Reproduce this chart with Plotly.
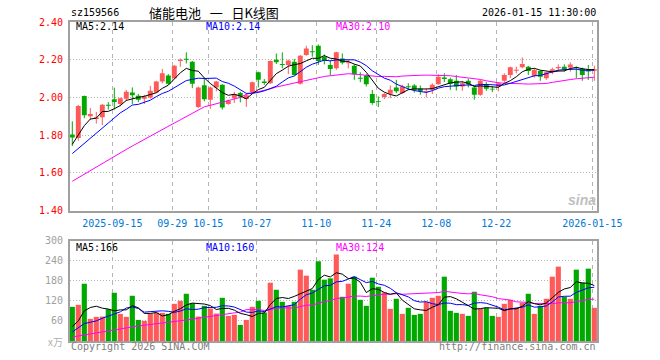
import plotly.graph_objects as go

dates = (
    ["2025-09-%02d" % d for d in [4, 5, 8, 9, 10, 11, 12, 15, 16, 17, 18, 19, 22, 23, 24, 25, 26, 29, 30]]
    + ["2025-10-%02d" % d for d in [9, 10, 13, 14, 15, 16, 17, 20, 21, 22, 23, 24, 27, 28, 29, 30, 31]]
    + ["2025-11-%02d" % d for d in [3, 4, 5, 6, 7, 10, 11, 12, 13, 14, 17, 18, 19, 20, 21, 24, 25, 26, 27, 28]]
    + ["2025-12-%02d" % d for d in [1, 2, 3, 4, 5, 8, 9, 10, 11, 12, 15, 16, 17, 18, 19, 22, 23, 24, 25, 26, 29, 30, 31]]
    + ["2026-01-%02d" % d for d in [5, 6, 7, 8, 9, 12, 13, 14, 15]]
)

opens = [1.803, 1.785, 2.007, 1.900, 1.886, 1.895, 1.962, 1.990, 1.965, 1.993,
         2.026, 2.009, 1.993, 2.000, 2.026, 2.084, 2.116, 2.102, 2.193, 2.207,
         2.189, 1.949, 2.064, 1.988, 2.053, 2.067, 1.965, 1.996, 2.023, 1.991,
         2.028, 2.133, 2.084, 2.075, 2.200, 2.179, 2.172, 2.189, 2.072, 2.225,
         2.247, 2.274, 2.216, 2.172, 2.154, 2.207, 2.184, 2.168, 2.105, 2.116,
         2.018, 1.984, 2.002, 2.019, 2.053, 2.023, 2.061, 2.063, 2.046, 2.032,
         2.040, 2.070, 2.105, 2.096, 2.088, 2.058, 2.088, 2.053, 2.014, 2.067,
         2.049, 2.058, 2.088, 2.119, 2.144, 2.160, 2.163, 2.114, 2.140, 2.102,
         2.133, 2.154, 2.163, 2.158, 2.163, 2.151, 2.144, 2.142]
highs = [1.873, 1.960, 2.010, 1.944, 1.923, 1.965, 1.975, 2.052, 1.999, 2.040,
         2.053, 2.018, 2.014, 2.061, 2.088, 2.151, 2.123, 2.172, 2.207, 2.239,
         2.193, 2.058, 2.100, 2.058, 2.088, 2.070, 1.988, 2.030, 2.030, 2.023,
         2.084, 2.137, 2.098, 2.196, 2.233, 2.239, 2.200, 2.204, 2.225, 2.274,
         2.277, 2.281, 2.228, 2.198, 2.242, 2.233, 2.198, 2.175, 2.133, 2.123,
         2.040, 2.005, 2.023, 2.063, 2.093, 2.067, 2.075, 2.070, 2.063, 2.049,
         2.075, 2.123, 2.128, 2.105, 2.119, 2.088, 2.098, 2.058, 2.093, 2.081,
         2.061, 2.081, 2.128, 2.163, 2.163, 2.212, 2.167, 2.154, 2.144, 2.137,
         2.158, 2.175, 2.175, 2.186, 2.165, 2.158, 2.172, 2.168]
lows = [1.742, 1.770, 1.890, 1.882, 1.861, 1.853, 1.935, 1.935, 1.953, 1.980,
        1.965, 1.975, 1.965, 1.993, 2.023, 2.075, 2.067, 2.098, 2.163, 2.180,
        2.049, 1.944, 1.979, 1.940, 2.032, 1.935, 1.961, 1.970, 1.974, 1.949,
        2.023, 2.053, 2.067, 2.072, 2.177, 2.154, 2.123, 2.116, 2.068, 2.221,
        2.216, 2.172, 2.175, 2.116, 2.146, 2.175, 2.154, 2.093, 2.081, 2.058,
        1.961, 1.949, 1.991, 1.996, 2.023, 2.018, 2.040, 2.026, 2.014, 2.000,
        2.018, 2.067, 2.081, 2.040, 2.037, 2.035, 2.053, 1.988, 2.009, 2.035,
        2.028, 2.032, 2.079, 2.102, 2.128, 2.154, 2.119, 2.105, 2.088, 2.093,
        2.123, 2.137, 2.137, 2.137, 2.102, 2.088, 2.093, 2.088]
closes = [1.787, 1.955, 1.905, 1.912, 1.893, 1.961, 1.958, 1.976, 1.995, 2.030,
          2.011, 1.988, 2.005, 2.035, 2.084, 2.128, 2.072, 2.168, 2.200, 2.202,
          2.072, 2.053, 1.990, 2.053, 2.084, 1.947, 1.982, 2.017, 2.005, 2.011,
          2.081, 2.093, 2.077, 2.193, 2.186, 2.175, 2.196, 2.119, 2.221, 2.260,
          2.242, 2.193, 2.193, 2.151, 2.239, 2.184, 2.186, 2.123, 2.102, 2.070,
          1.970, 1.979, 2.018, 2.040, 2.032, 2.058, 2.056, 2.040, 2.032, 2.037,
          2.067, 2.110, 2.098, 2.072, 2.058, 2.075, 2.070, 2.014, 2.088, 2.046,
          2.044, 2.075, 2.119, 2.160, 2.149, 2.177, 2.140, 2.146, 2.110, 2.133,
          2.149, 2.161, 2.149, 2.175, 2.158, 2.119, 2.137, 2.149]
volumes = [102, 108, 171, 66, 72, 73, 95, 144, 81, 72,
           135, 63, 60, 82, 85, 84, 81, 111, 120, 141,
           113, 73, 105, 97, 82, 129, 75, 78, 48, 63,
           102, 120, 85, 174, 153, 117, 105, 117, 213, 195,
           153, 238, 183, 187, 258, 132, 171, 192, 123, 105,
           189, 162, 145, 96, 126, 81, 99, 78, 81, 117,
           129, 135, 192, 90, 84, 81, 75, 147, 96, 99,
           75, 72, 111, 123, 99, 114, 141, 81, 105, 126,
           192, 222, 132, 126, 213, 174, 216, 99]

# moving-average values at the start of the window (depend on data before the chart)
ma5_lead = [1.751, 1.800, 1.850, 1.885]
ma10_lead = [1.702, 1.730, 1.756, 1.783, 1.810, 1.837, 1.864, 1.891, 1.918]
ma30_lead = [1.555, 1.574, 1.594, 1.613, 1.632, 1.652, 1.671, 1.690, 1.707, 1.724,
             1.742, 1.760, 1.777, 1.795, 1.812, 1.830, 1.847, 1.864, 1.881, 1.899,
             1.916, 1.933, 1.950, 1.958, 1.966, 1.975, 1.984, 1.992, 2.000]
vma5_lead = [43, 60, 90, 100]
vma10_lead = [27, 40, 52, 56, 60, 68, 75, 81, 87]
vma30_lead = [12, 15, 19, 23, 25, 27, 30, 34, 37, 40,
              43, 45, 47, 49, 51, 53, 55, 57, 60, 62,
              65, 68, 71, 74, 76, 79, 82, 84, 86]

# legend values as printed on the chart
price_ma_labels = ["MA5:2.14", "MA10:2.14", "MA30:2.10"]
vol_ma_labels = ["MA5:166", "MA10:160", "MA30:124"]

tick_dates = ["2025-09-15", "2025-09-29", "2025-10-15", "2025-10-27", "2025-11-10",
              "2025-11-24", "2025-12-08", "2025-12-22", "2026-01-15"]
tick_labels = ["2025-09-15", "09-29", "10-15", "10-27", "11-10",
               "11-24", "12-08", "12-22", "2026-01-15"]
price_ticks = [1.40, 1.60, 1.80, 2.00, 2.20, 2.40]
vol_ticks = [60, 120, 180, 240, 300]

RED = "#ff5a5a"
GREEN = "#00a800"
MONO = "DejaVu Sans Mono"


def moving_avg(vals, n, lead):
    out = list(lead)
    for i in range(len(lead), len(vals)):
        out.append(sum(vals[i - n + 1:i + 1]) / n)
    return out


ma5 = moving_avg(closes, 5, ma5_lead)
ma10 = moving_avg(closes, 10, ma10_lead)
ma30 = moving_avg(closes, 30, ma30_lead)
vma5 = moving_avg(volumes, 5, vma5_lead)
vma10 = moving_avg(volumes, 10, vma10_lead)
vma30 = moving_avg(volumes, 30, vma30_lead)

n = len(dates)
idx = list(range(n))
up = [closes[i] >= opens[i] for i in idx]

fig = go.Figure()

# candle bodies and wicks
for flag, col in [(True, RED), (False, GREEN)]:
    xs = [i for i in idx if up[i] == flag]
    fig.add_trace(go.Bar(
        x=xs,
        y=[max(abs(closes[i] - opens[i]), 0.005) for i in xs],
        base=[min(closes[i], opens[i]) - (0.0025 if abs(closes[i] - opens[i]) < 0.005 else 0) for i in xs],
        width=0.82, marker=dict(color=col, line=dict(width=0)),
        xaxis="x", yaxis="y", showlegend=False, hoverinfo="skip"))
    wx, wy = [], []
    for i in xs:
        wx += [i, i, None]
        wy += [lows[i], highs[i], None]
    fig.add_trace(go.Scatter(x=wx, y=wy, mode="lines", line=dict(color=col, width=1),
                             xaxis="x", yaxis="y", showlegend=False, hoverinfo="skip"))

for vals, col in [(ma30, "#ff00ff"), (ma10, "#0000ff"), (ma5, "#000000")]:
    fig.add_trace(go.Scatter(x=idx, y=vals, mode="lines", line=dict(color=col, width=1),
                             xaxis="x", yaxis="y", showlegend=False, hoverinfo="skip"))

# volume
fig.add_trace(go.Bar(x=idx, y=volumes, width=0.86,
                     marker=dict(color=[RED if u else GREEN for u in up], line=dict(width=0)),
                     xaxis="x2", yaxis="y2", showlegend=False, hoverinfo="skip"))
for vals, col in [(vma30, "#ff00ff"), (vma10, "#0000ff"), (vma5, "#000000")]:
    fig.add_trace(go.Scatter(x=idx, y=vals, mode="lines", line=dict(color=col, width=1),
                             xaxis="x2", yaxis="y2", showlegend=False, hoverinfo="skip"))

W, H = 660, 360
PLOT_L, PLOT_R, PLOT_T, PLOT_B = 70, 597, 22, 341
ML, MR, MT, MB = PLOT_L, W - PLOT_R, PLOT_T, H - PLOT_B
PW, PH = PLOT_R - PLOT_L, PLOT_B - PLOT_T


def pxx(x):
    return (x - PLOT_L) / PW


def pyy(y):
    return (PLOT_B - y) / PH


tickpos = [dates.index(d) - 0.33 for d in tick_dates]
xr = [-0.383, 87.45]
BORDER = "#a0a0a0"
GRID = "#b4b4b4"

fig.update_layout(
    width=W, height=H, margin=dict(l=ML, r=MR, t=MT, b=MB, pad=0),
    paper_bgcolor="white", plot_bgcolor="white", barmode="overlay",
    font=dict(family=MONO, size=10), hovermode=False,
    xaxis=dict(domain=[0, 1], range=xr, anchor="y", tickvals=tickpos, ticktext=tick_labels,
               tickfont=dict(color="#0078d7", size=10, family=MONO), ticks="", ticklabelstandoff=2,
               showgrid=True, gridcolor=GRID, griddash="4px,4px", gridwidth=1,
               showline=True, linecolor=BORDER, linewidth=2, mirror=True, zeroline=False,
               automargin=False),
    yaxis=dict(domain=[pyy(210.5), 1], range=[1.40, 2.40], tickvals=price_ticks,
               ticktext=["%.2f" % v for v in price_ticks],
               tickfont=dict(color="#ff0000", size=10, family=MONO), ticks="", ticklabelstandoff=3,
               showgrid=True, gridcolor=GRID, griddash="1px,2px", gridwidth=1,
               showline=True, linecolor=BORDER, linewidth=2, mirror=True, zeroline=False,
               automargin=False),
    xaxis2=dict(domain=[0, 1], range=xr, anchor="y2", matches="x", tickvals=tickpos,
                showticklabels=False, ticks="",
                showgrid=True, gridcolor=GRID, griddash="4px,4px", gridwidth=1,
                showline=True, linecolor=BORDER, linewidth=2, mirror=True, zeroline=False,
                automargin=False),
    yaxis2=dict(domain=[0, pyy(240.5)], range=[0, 300], tickvals=vol_ticks,
                ticktext=[str(v) for v in vol_ticks],
                tickfont=dict(color="#a0a0a0", size=10, family=MONO), ticks="", ticklabelstandoff=3,
                showgrid=True, gridcolor=GRID, griddash="1px,2px", gridwidth=1,
                showline=True, linecolor=BORDER, linewidth=2, mirror=True, zeroline=False,
                automargin=False),
)


def note(text, x, y, color="#000000", size=10, xanchor="left", family=MONO):
    fig.add_annotation(text=text, x=pxx(x), y=pyy(y), xref="paper", yref="paper",
                       xanchor=xanchor, yanchor="middle", showarrow=False,
                       font=dict(color=color, size=size, family=family))


NB = "\u00a0"
note("sz159566", 69, 13, size=10)
note("储能电池" + NB * 3 + "一" + NB * 3 + "日K线图", 214, 12.5, size=13, xanchor="center",
     family="Noto Sans CJK SC")
note("2026-01-15 11:30:00", 598, 13, size=10, xanchor="right")
note(price_ma_labels[0], 74, 26.5)
note(price_ma_labels[1], 204, 26.5, color="#0000ff")
note(price_ma_labels[2], 334, 26.5, color="#ff00ff")
note(vol_ma_labels[0], 74, 247)
note(vol_ma_labels[1], 204, 247, color="#0000ff")
note(vol_ma_labels[2], 334, 247, color="#ff00ff")
note("x万", 65, 341, color="#b0b0b0", size=10, xanchor="right", family="Noto Sans CJK SC")
note("Copyright 2026 SINA.COM", 69, 346, color="#808080")
note("http://finance.sina.com.cn", 598, 346, color="#808080", xanchor="right")
note("<i><b>sina</b></i>", 582, 200, color="#c0c0c0", size=14, xanchor="center", family="Arial")

# remove the page's default body margin so the figure sits at the window's corner
fig.write_html("out.html", config={"displayModeBar": False, "staticPlot": True},
               post_script="document.body.style.margin='0';")
